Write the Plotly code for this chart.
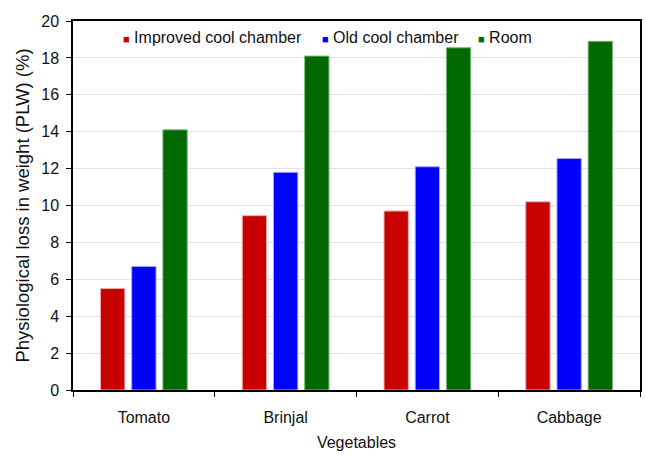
import plotly.graph_objects as go

vegetables = ["Tomato", "Brinjal", "Carrot", "Cabbage"]
improved_cool_chamber = [5.5, 9.45, 9.7, 10.2]
old_cool_chamber = [6.7, 11.8, 12.1, 12.55]
room = [14.1, 18.1, 18.55, 18.9]

series = [
    ("Improved cool chamber", improved_cool_chamber, "#C80000", "#F0A8A8"),
    ("Old cool chamber", old_cool_chamber, "#0000FF", "#A8A8FF"),
    ("Room", room, "#006A00", "#78B878"),
]

FONT = "Liberation Sans, Arial, sans-serif"

fig = go.Figure()
for name, vals, color, edge in series:
    fig.add_trace(go.Bar(
        x=vegetables, y=vals, name=name,
        marker=dict(color=color, line=dict(color=edge, width=1)),
        showlegend=False,
    ))

# Compact legend row along the top of the plot
legend_x = [0.084, 0.435, 0.711]
for (name, _, color, _), lx in zip(series, legend_x):
    fig.add_annotation(
        x=lx, y=0.954, xref="paper", yref="paper",
        xanchor="left", yanchor="middle", showarrow=False,
        text=f'<span style="color:{color};font-size:11px">■</span> {name}',
        font=dict(family=FONT, size=16, color="#111111"),
    )

fig.update_layout(
    width=646, height=456,
    margin=dict(l=73, r=4, t=21, b=66),
    paper_bgcolor="white", plot_bgcolor="white",
    barmode="group", bargap=0.34, bargroupgap=0.22,
    font=dict(family=FONT, size=16, color="#111111"),
)
fig.update_xaxes(
    showline=True, linecolor="black", linewidth=1.5, mirror=True,
    ticks="outside", ticklen=5, tickcolor="black", tickson="boundaries",
    ticklabelstandoff=12,
    title=dict(text="Vegetables", standoff=12, font=dict(size=16)),
    tickfont=dict(size=16),
)
fig.update_yaxes(
    range=[0, 20], dtick=2,
    showline=True, linecolor="black", linewidth=1.5, mirror=True,
    ticks="outside", ticklen=5, tickcolor="black",
    showgrid=True, gridcolor="#E2E2E2", gridwidth=1,
    tickfont=dict(size=16), ticklabelstandoff=4,
    title=dict(text="Physiological loss in weight (PLW) (%)", standoff=7,
               font=dict(size=18.5)),
    zeroline=False,
)

fig.write_html("out.html")
